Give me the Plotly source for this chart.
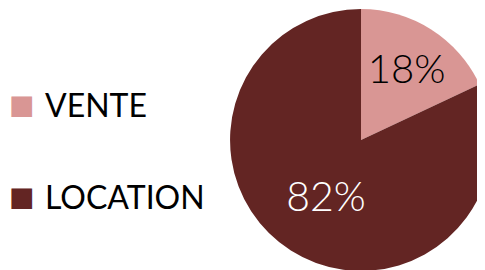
import plotly.graph_objects as go

categories = ["VENTE", "LOCATION"]
values = [18, 82]
colors = ["#D99694", "#632523"]
label_colors = ["#000000", "#FFFFFF"]

fig = go.Figure()
fig.add_trace(go.Pie(
    labels=categories,
    values=values,
    marker=dict(colors=colors, line=dict(width=0)),
    sort=False,
    direction="clockwise",
    rotation=0,
    textinfo="percent",
    texttemplate="%{percent:.0%}",
    textposition="inside",
    insidetextorientation="horizontal",
    insidetextfont=dict(family="Lato", size=41, color=label_colors, weight=300),
    domain=dict(x=[0.4577, 0.998], y=[0.026, 0.996]),
    showlegend=False,
    hoverinfo="skip",
))

# legend built from the category list
legend_y = [0.643, 0.302]
for cat, col, yy in zip(categories, colors, legend_y):
    fig.add_annotation(
        xref="paper", yref="paper", x=0.0, y=yy, xanchor="left", yanchor="middle",
        text="■", showarrow=False, xshift=-1,
        font=dict(family="DejaVu Sans", size=27, color=col),
    )
    fig.add_annotation(
        xref="paper", yref="paper", x=0.072, y=yy, xanchor="left", yanchor="middle",
        text=cat, showarrow=False,
        font=dict(family="Lato", size=32, color="#000000"),
    )

fig.update_layout(
    width=485, height=270,
    margin=dict(l=0, r=0, t=0, b=0),
    paper_bgcolor="white", plot_bgcolor="white",
)
fig.write_html("out.html")
